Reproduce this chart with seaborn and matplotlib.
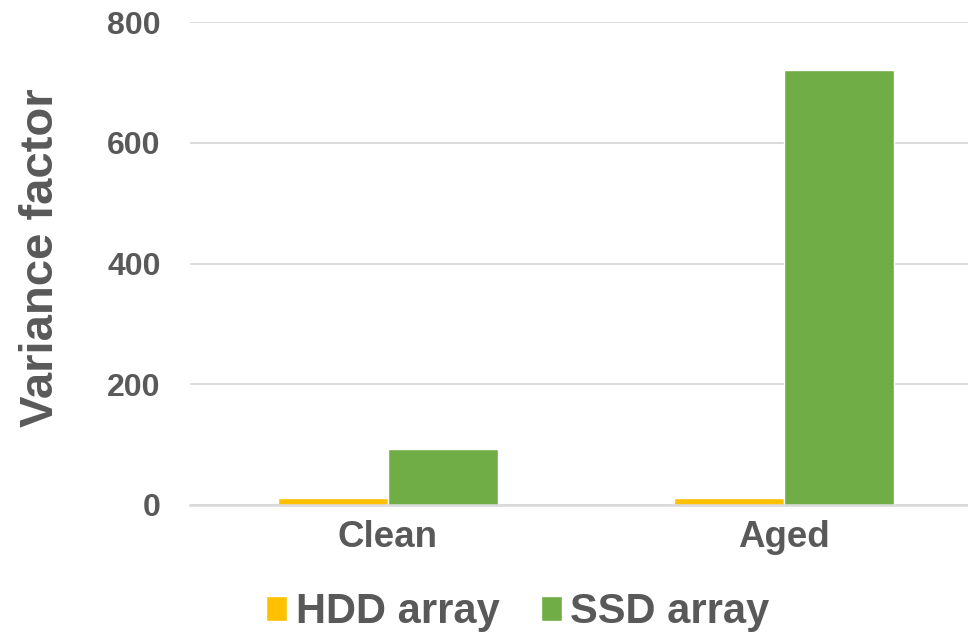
import matplotlib
matplotlib.use("Agg")
import matplotlib.pyplot as plt
import seaborn as sns
import pandas as pd

conditions = ["Clean", "Aged"]
series = ["HDD array", "SSD array"]
hdd_values = [12, 12]
ssd_values = [93, 720]
yticks = [0, 200, 400, 600, 800]
colors = {"HDD array": "#FFC000", "SSD array": "#70AD47"}
grey = "#595959"

df = pd.DataFrame({
    "condition": conditions * 2,
    "array": [series[0]] * 2 + [series[1]] * 2,
    "value": hdd_values + ssd_values,
})

sns.set_style("white")
plt.rcParams["font.family"] = ["Liberation Sans", "DejaVu Sans"]
plt.rcParams["font.weight"] = "bold"

fig = plt.figure(figsize=(9.68, 6.34), dpi=100)
ax = fig.add_axes([0.1963, 0.2035, 0.818, 0.7615])
sns.barplot(data=df, x="condition", y="value", hue="array", palette=colors,
            width=0.556, ax=ax, saturation=1, legend=True)

ax.set_ylim(0, 800)
ax.set_yticks(yticks)
ax.yaxis.grid(True, color="#D9D9D9", linewidth=1.3)
ax.set_axisbelow(True)
for s in ["top", "right", "left"]:
    ax.spines[s].set_visible(False)
ax.spines["bottom"].set_color("#D9D9D9")
ax.spines["bottom"].set_linewidth(1.8)
ax.tick_params(axis="y", length=0, pad=21, labelsize=23, labelcolor=grey)
ax.tick_params(axis="x", length=0, pad=11, labelsize=26.5, labelcolor=grey)
for lab in ax.get_xticklabels() + ax.get_yticklabels():
    lab.set_fontweight("bold")
ax.set_xlabel("")
ax.set_ylabel("Variance factor", fontsize=34, fontweight="bold", color=grey)
ax.yaxis.set_label_coords(-0.160, 0.512)

ax.legend(loc="center", bbox_to_anchor=(0.414, -0.222), ncol=2, frameon=False,
          prop={"size": 30, "weight": "bold"}, handlelength=0.5, handleheight=0.52,
          handletextpad=0.2, columnspacing=1.0, labelcolor=grey)

fig.savefig("out.png", dpi=100)
